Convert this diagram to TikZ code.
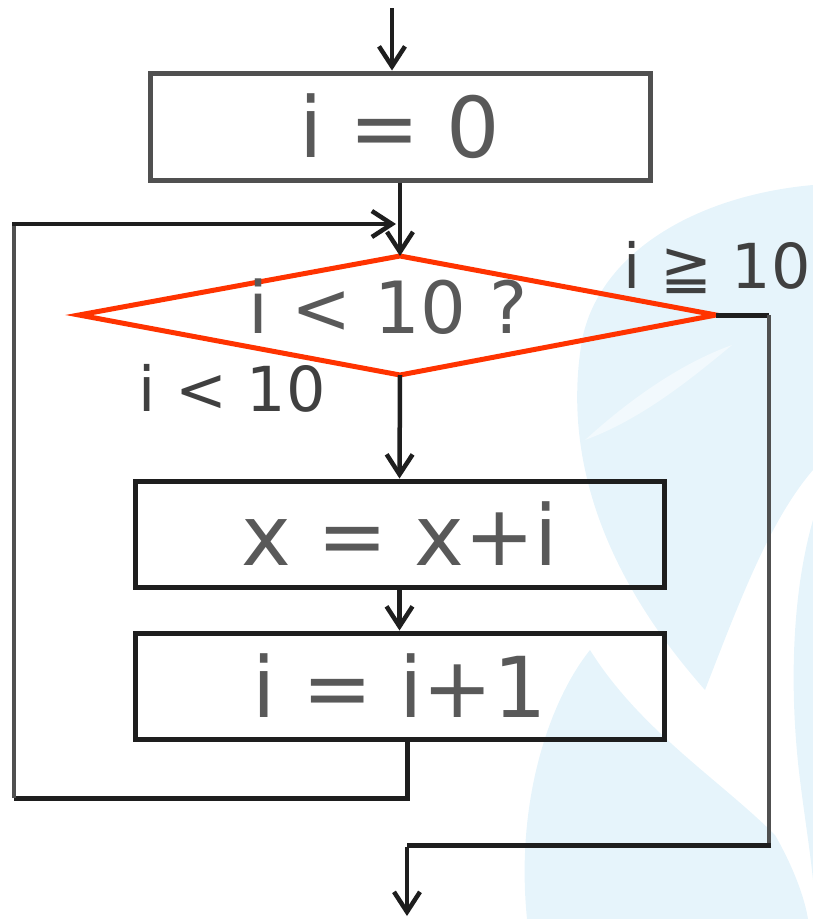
\documentclass[tikz,border=0pt]{standalone}
\usepackage{fontspec}
\setmainfont{DejaVu Sans}
\usetikzlibrary{arrows.meta}
\definecolor{wm}{RGB}{230,244,251}
\definecolor{wmlight}{RGB}{242,249,253}
\definecolor{boxgray}{RGB}{80,80,80}
\definecolor{ink}{RGB}{30,30,30}
\definecolor{txtgray}{RGB}{89,89,89}
\definecolor{lblgray}{RGB}{64,64,64}
\definecolor{dred}{RGB}{255,51,0}
\tikzset{
  procbox/.style={draw=ink, line width=5pt, minimum width=529pt, minimum height=106pt, inner sep=0pt,
    text=txtgray, font=\fontsize{84}{84}\selectfont},
  arr/.style={draw=ink, line width=4.5pt, -{Straight Barb[length=20pt,width=26pt,line width=4.5pt]}},
  conn/.style={draw=ink, line width=5pt},
  connv/.style={draw=boxgray, line width=4.5pt},
  lbl/.style={text=lblgray, font=\fontsize{62}{62}\selectfont, inner sep=0pt},
}
\begin{document}
\begin{tikzpicture}[x=1pt,y=-1pt]
\useasboundingbox (0,0) rectangle (813,919);
% watermark
\fill[wm] (813,185) .. controls (700,195) and (600,250) .. (582,340)
  .. controls (565,440) and (590,560) .. (705,690)
  .. controls (740,600) and (770,520) .. (813,470) -- cycle;
\fill[wmlight] (585,440) .. controls (640,390) and (690,360) .. (732,345)
  .. controls (690,380) and (640,420) .. (585,440) -- cycle;
\fill[wm] (527,919) .. controls (515,800) and (550,700) .. (590,650)
  .. controls (640,730) and (720,780) .. (775,835)
  .. controls (795,870) and (805,900) .. (808,919) -- cycle;
\fill[wm] (813,520) .. controls (790,600) and (790,700) .. (800,780)
  .. controls (805,820) and (810,850) .. (813,880) -- cycle;

% nodes
\node[procbox, draw=boxgray, minimum width=500pt, minimum height=107pt] (b1) at (400,126.5) {i = 0};
\node[procbox] (b2) at (399.5,534) {x = x+i};
\node[procbox] (b3) at (399.5,686) {i = i+1};

\coordinate (dtop) at (400,256);
\coordinate (dleft) at (79,315);
\coordinate (dright) at (716,315);
\coordinate (dbot) at (400,375);
\draw[draw=dred, line width=5pt, line join=miter] (dtop) -- (dright) -- (dbot) -- (dleft) -- cycle;
\node[text=txtgray, font=\fontsize{72}{72}\selectfont, inner sep=0pt] (q) at (388,307) {i < 10 ?};

\node[lbl] (lyes) at (232,388) {i < 10};
\node[lbl] (lno) at (717,268) {i ≧ 10};

% connectors
\coordinate (in) at (392,8);
\draw[arr] (in) -- (in |- b1.north);
\draw[arr] (b1.south) -- (dtop);
\draw[arr] (dbot) -- (b2.north);
\draw[arr] (b2.south) -- (b3.north);

\coordinate (b3out) at (407,740);
\coordinate (lb) at (407,798);
\coordinate (ll) at (14,798);
\coordinate (lt) at (14,224);
\coordinate (lend) at (396,224);
\draw[conn] (b3out) -- (lb) -- (ll);
\draw[connv] (ll) -- (lt);
\draw[arr] ([xshift=-2pt]lt) -- (lend);

\coordinate (rt) at (769,315);
\coordinate (rb) at (769,845);
\coordinate (ob) at (407,845);
\coordinate (out) at (407,916);
\draw[conn] (dright) -- (rt);
\draw[connv] (rt) -- (rb);
\draw[conn] ([xshift=2pt]rb) -- (ob);
\draw[arr] ([yshift=-2pt]ob) -- (out);
\end{tikzpicture}
\end{document}
